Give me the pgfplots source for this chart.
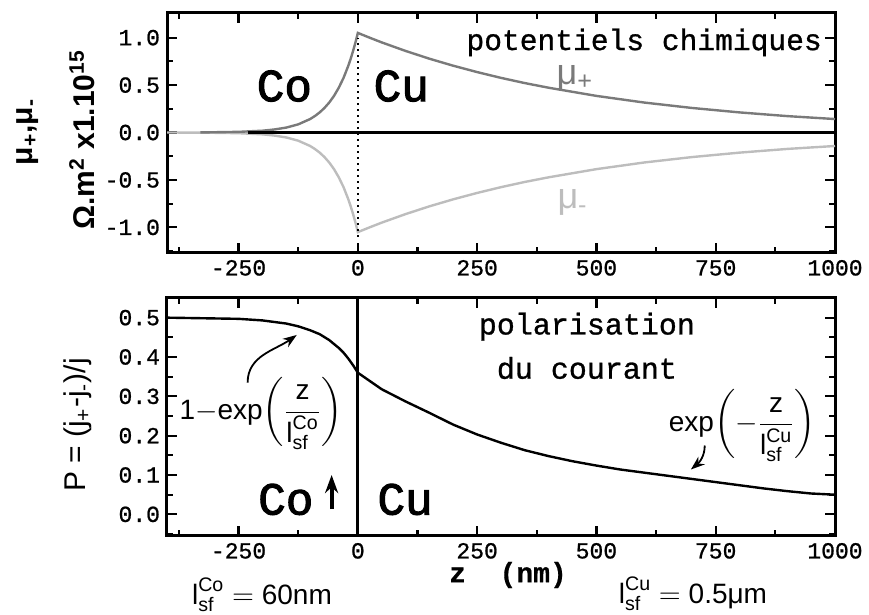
\documentclass[border=0pt]{standalone}
\usepackage{fontspec}
\usepackage{amsmath}
\usepackage{pgfplots}
\pgfplotsset{compat=1.18}
\usetikzlibrary{arrows.meta}
\setmainfont{Liberation Mono}[FakeBold=0.5]
\newfontfamily\monoA{Liberation Mono}[FakeBold=0.9]
\newfontfamily\monoB{Liberation Mono}[FakeBold=2.2]
\newfontfamily\sans{Liberation Sans}
\definecolor{gplus}{gray}{0.48}
\definecolor{gminus}{gray}{0.74}
\begin{document}
\begin{tikzpicture}
\useasboundingbox (0pt,0pt) rectangle (434.5pt,307.5pt);
\pgfplotsset{
 myax/.style={
  scale only axis, width=334pt,
  xmin=-400,xmax=1000,
  xtick={-250,0,250,500,750,1000},
  xticklabels={-250,0,250,500,750,1000},
  minor xtick={-375,-125,125,375,625,875},
  tick align=inside, tick pos=both,
  axis line style={line width=1.5pt},
  major tick length=5pt, minor tick length=3pt,
  tick style={black, line width=1.1pt},
  tick label style={font=\monoA\fontsize{11.5}{12}\selectfont},
 }
}
% ---------- top panel ----------
\begin{axis}[myax, at={(83.5pt,181pt)}, anchor=south west, height=120pt,
  ymin=-1.27, ymax=1.26,
  ytick={-1,-0.5,0,0.5,1}, yticklabels={-1.0,-0.5,0.0,0.5,1.0},
  minor ytick={-1.25,-0.75,-0.25,0.25,0.75}]
\addplot[gminus, line width=1.2pt] coordinates {
(-400,0)(-330,-0.001)(-300,-0.003)(-250,-0.007)(-200,-0.019)(-175,-0.032)(-150,-0.052)(-125,-0.086)(-100,-0.142)(-90,-0.174)(-80,-0.212)(-70,-0.259)(-60,-0.316)(-50,-0.386)(-40,-0.472)(-30,-0.576)(-20,-0.704)(-15,-0.778)(-10,-0.860)(-5,-0.950)(0,-1.05)
(25,-0.999)(50,-0.950)(100,-0.860)(150,-0.778)(200,-0.704)(250,-0.637)(300,-0.576)(350,-0.521)(400,-0.472)(500,-0.386)(600,-0.316)(700,-0.259)(800,-0.212)(900,-0.173)(1000,-0.142)};
\addplot[gplus, line width=1.2pt] coordinates {
(-330,0.001)(-300,0.003)(-250,0.007)(-200,0.019)(-175,0.032)(-150,0.052)(-125,0.086)(-100,0.142)(-90,0.174)(-80,0.212)(-70,0.259)(-60,0.316)(-50,0.386)(-40,0.472)(-30,0.576)(-20,0.704)(-15,0.778)(-10,0.860)(-5,0.950)(0,1.05)
(25,0.999)(50,0.950)(100,0.860)(150,0.778)(200,0.704)(250,0.637)(300,0.576)(350,0.521)(400,0.472)(500,0.386)(600,0.316)(700,0.259)(800,0.212)(900,0.173)(1000,0.142)};
\addplot[black, line width=1.6pt] coordinates {(-230,0)(1000,0)};
\addplot[black, dotted, line width=1pt] coordinates {(0,-1.1)(0,1.0)};
\node[font=\monoB\fontsize{23}{23}\selectfont] at (axis cs:-154,0.49) {Co};
\node[font=\monoB\fontsize{23}{23}\selectfont] at (axis cs:91,0.49) {Cu};
\node[font=\monoA\fontsize{14.8}{15}\selectfont] at (axis cs:600,0.95) {potentiels chimiques};
\node[gplus, font=\sans\fontsize{18}{18}\selectfont] at (axis cs:455,0.57) {μ\textsubscript{+}};
\node[gminus, font=\sans\fontsize{18}{18}\selectfont] at (axis cs:450,-0.74) {μ\textsubscript{-}};
\end{axis}
% ---------- bottom panel ----------
\begin{axis}[myax, at={(83.5pt,39.5pt)}, anchor=south west, height=119pt,
  ymin=-0.055, ymax=0.55,
  ytick={0,0.1,0.2,0.3,0.4,0.5}, yticklabels={0.0,0.1,0.2,0.3,0.4,0.5},
  minor ytick={-0.05,0.05,0.15,0.25,0.35,0.45}]
\addplot[black, line width=1.2pt] coordinates {
(-400,0.5)(-300,0.498)(-250,0.497)(-200,0.493)(-150,0.485)(-125,0.478)(-100,0.468)(-80,0.458)(-60,0.443)(-40,0.423)(-30,0.411)(-20,0.396)(-10,0.379)(0,0.36)
(50,0.318)(100,0.287)(150,0.258)(200,0.228)(250,0.203)(300,0.182)(350,0.163)(400,0.148)(450,0.135)(500,0.124)(550,0.114)(600,0.106)(650,0.098)(700,0.090)(750,0.082)(800,0.074)(850,0.066)(900,0.059)(950,0.053)(1000,0.05)};
\addplot[black, line width=1.5pt] coordinates {(0,-0.06)(0,0.56)};
\draw[-{Stealth[length=9pt,width=6.5pt]}, line width=2pt] (axis cs:-55,0.013) -- (axis cs:-55,0.1);
\node[font=\monoB\fontsize{23}{23}\selectfont] at (axis cs:-151,0.038) {Co};
\node[font=\monoB\fontsize{23}{23}\selectfont] at (axis cs:99,0.038) {Cu};
\node[font=\monoA\fontsize{15}{15}\selectfont] at (axis cs:480,0.477) {polarisation};
\node[font=\monoA\fontsize{15}{15}\selectfont] at (axis cs:480,0.372) {du courant};
\node[font=\sans\fontsize{14}{14}\selectfont] at (axis cs:-203,0.256)
  {1$-$exp$\left(\dfrac{\text{z}}{\text{l}^{\text{Co}}_{\text{sf}}}\right)$};
\node[font=\sans\fontsize{14}{14}\selectfont] at (axis cs:806,0.225)
  {exp$\left(-\dfrac{\text{z}}{\text{l}^{\text{Cu}}_{\text{sf}}}\right)$};
\draw[-{Stealth[length=7pt,width=5pt]}, line width=0.9pt] (axis cs:-231,0.335) to[out=90,in=215] (axis cs:-128,0.456);
\draw[-{Stealth[length=7pt,width=5pt]}, line width=0.9pt] (axis cs:727,0.175) to[out=-90,in=40] (axis cs:698,0.114);
\end{axis}
% ---------- outer labels ----------
\node[rotate=90, font=\sans\bfseries\fontsize{15}{15}\selectfont] at (14pt,241.5pt) {μ\textsubscript{+},μ\textsubscript{-}};
\node[rotate=90, font=\sans\bfseries\fontsize{15}{15}\selectfont] at (41pt,237.5pt) {Ω.m\textsuperscript{2} x1.10\textsuperscript{15}};
\node[rotate=90, font=\sans\fontsize{15}{15}\selectfont] at (39pt,95pt) {P = (j\textsubscript{+}-j\textsubscript{-})/j};
\node[font=\bfseries\fontsize{14}{14}\selectfont] at (254pt,20pt) {z\ \ (nm)};
\node[font=\sans\fontsize{14}{14}\selectfont] at (131pt,10pt) {$\text{l}^{\text{Co}}_{\text{sf}}$ $=$ 60nm};
\node[font=\sans\fontsize{14}{14}\selectfont] at (346.5pt,10.5pt) {$\text{l}^{\text{Cu}}_{\text{sf}}$ $=$ 0.5μm};
\end{tikzpicture}
\end{document}
